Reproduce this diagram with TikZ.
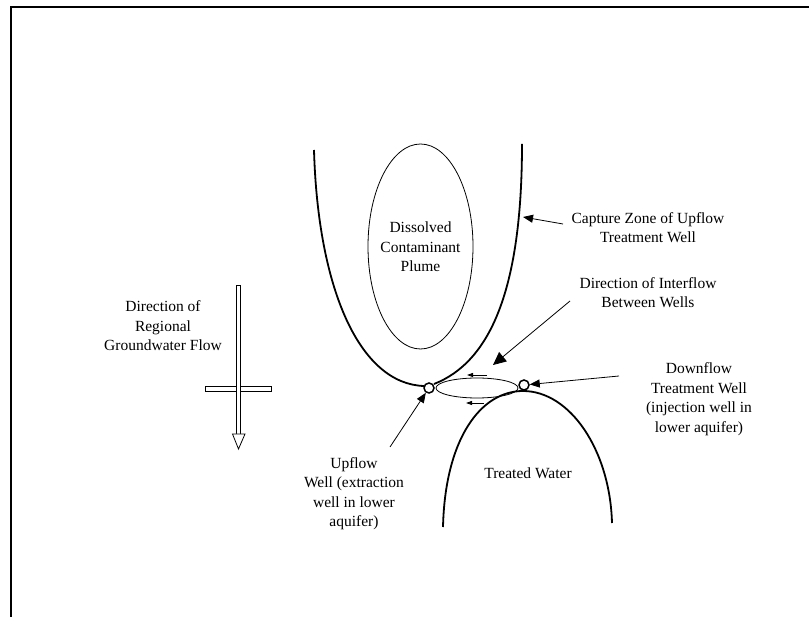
\documentclass[tikz,border=0pt]{standalone}
\usepackage{fontspec}
\setmainfont{Liberation Serif}
\usetikzlibrary{arrows.meta,shapes.geometric}
\begin{document}
\begin{tikzpicture}[x=1pt,y=-1pt,
  lbl/.style={align=center,font=\fontsize{15.5}{19.5}\selectfont,inner sep=0pt},
  zone/.style={line width=1.8pt},
  well/.style={circle,draw,line width=1.5pt,minimum size=10pt,inner sep=0pt,fill=white},
  ptr/.style={line width=0.8pt,-{Triangle[length=10pt,width=8pt]}},
  bigptr/.style={line width=0.8pt,-{Triangle[length=13pt,width=12pt]}},
  smallptr/.style={line width=0.9pt,-{Triangle[length=6pt,width=4pt]}},
  hollow/.style={draw,line width=0.8pt,fill=white}]
\useasboundingbox (0,0) rectangle (809,617);
% frame
\draw[line width=2pt] (11,617) -- (11,7.5) -- (809,7.5);
% plume
\node[draw,ellipse,line width=0.8pt,minimum width=105pt,minimum height=205pt,inner sep=0pt] (plume) at (420.5,246.5) {};
\node[lbl] (plumetxt) at (420.5,247) {Dissolved\\Contaminant\\Plume};
% capture zone
\draw[zone] (314,150) .. controls (318,290) and (360,384) .. (424,386);
\draw[zone] (434,384) .. controls (490,362) and (522,290) .. (522,144);
% treated water
\draw[zone] (443,527) .. controls (445,440) and (480,391) .. (523,391) .. controls (570,391) and (610,450) .. (612,523);
\node[lbl] (treated) at (528,473) {Treated Water};
% interflow loop
\draw[line width=0.8pt] (477,388) ellipse (41 and 10);
\coordinate (s1a) at (487,375); \coordinate (s1b) at (467,375);
\coordinate (s2a) at (484,403); \coordinate (s2b) at (466,403);
\draw[smallptr] (s1a) -- (s1b);
\draw[smallptr] (s2a) -- (s2b);
% wells
\node[well] (up) at (429,388) {};
\node[well] (down) at (524,385) {};
% labels
\node[lbl] (capture) at (648,227.5) {Capture Zone of Upflow\\Treatment Well};
\node[lbl] (inter) at (648,292.5) {Direction of Interflow\\Between Wells};
\node[lbl] (downlbl) at (699,399) {Downflow\\Treatment Well\\(injection well in\\lower aquifer)};
\node[lbl] (uplbl) at (354,493.5) {Upflow\\Well (extraction\\well in lower\\aquifer)};
\node[lbl] (gw) at (163,326) {Direction of\\Regional\\Groundwater Flow};
% pointers
\coordinate (c1) at (563,224); \coordinate (c1t) at (523,217);
\draw[ptr] (c1) -- (c1t);
\coordinate (i1) at (570,301); \coordinate (i1t) at (493,365);
\draw[bigptr] (i1) -- (i1t);
\coordinate (d1) at (619,376);
\draw[ptr] (d1) -- (down);
\coordinate (u1) at (390,447);
\draw[ptr] (u1) -- (up);
% regional flow arrow
\draw[hollow] (205,386) rectangle (271,391);
\draw[hollow] (236.5,285) rectangle (240.5,434);
\draw[hollow] (232.5,434) -- (245,434) -- (238.5,449) -- cycle;
\end{tikzpicture}
\end{document}
